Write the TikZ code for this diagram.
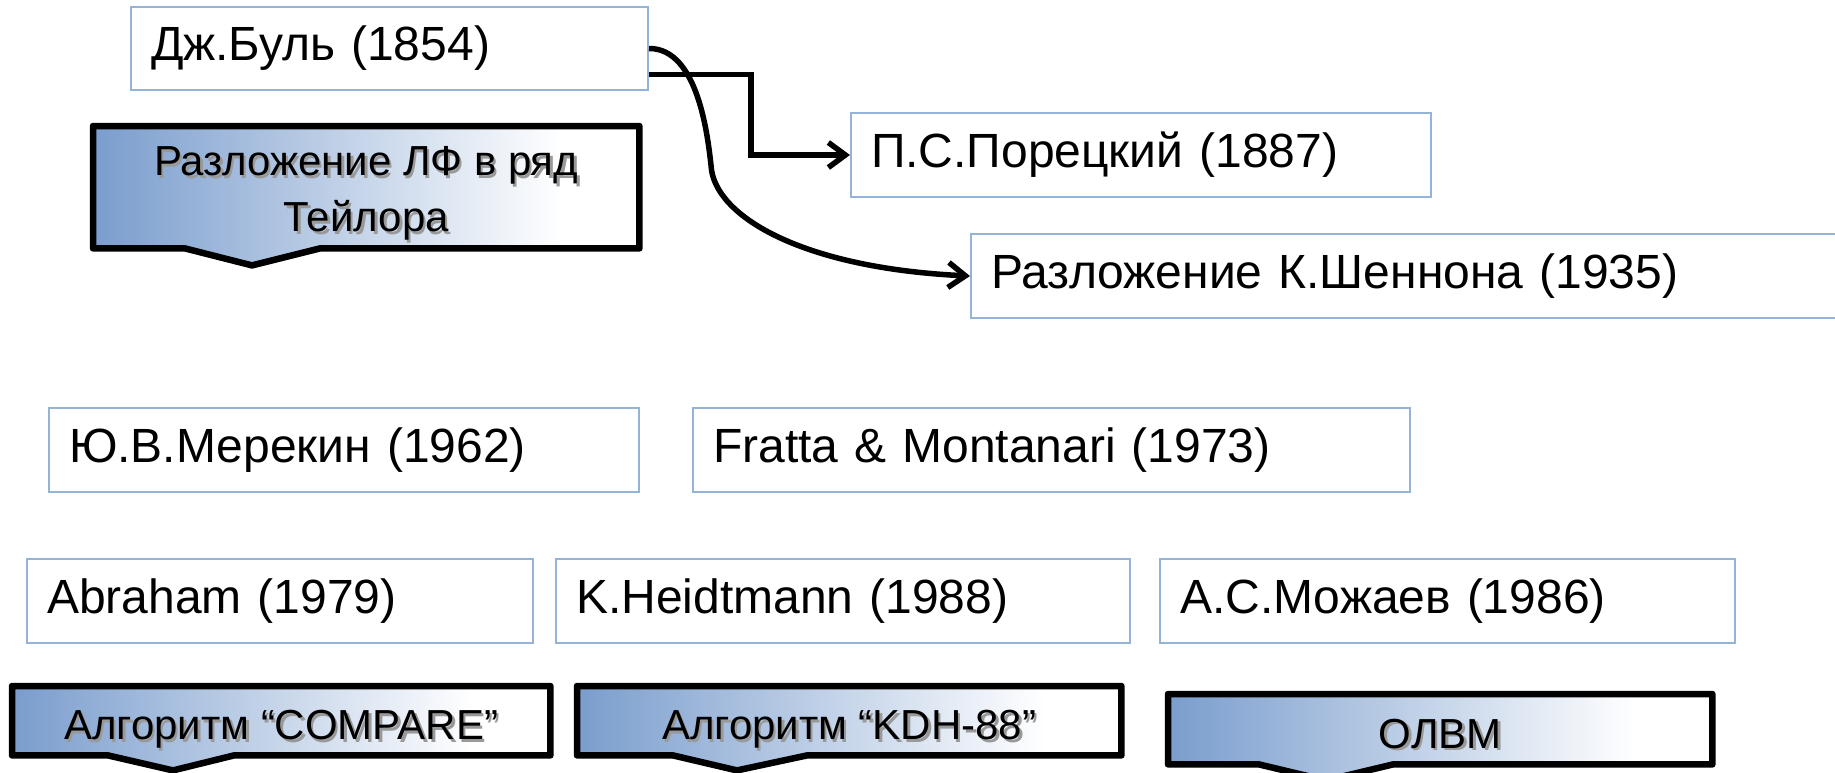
\documentclass[tikz,border=0pt]{standalone}
\usepackage{fontspec}
\setmainfont{Liberation Sans}
\usetikzlibrary{arrows.meta,calc}
\pgfdeclarelayer{bg}
\pgfsetlayers{bg,main}

\definecolor{boxline}{RGB}{149,179,215}
\definecolor{steel}{RGB}{122,157,205}
\pgfdeclarehorizontalshading{calloutshade}{100bp}{%
  color(0bp)=(steel); color(25bp)=(steel); color(68bp)=(white); color(100bp)=(white)}

% text with a soft offset shadow, as in the callout labels
\newcommand\shadowed[1]{{\leavevmode\rlap{\raisebox{-2.5pt}{\hspace{2.5pt}\textcolor{black!40}{#1}}}#1}}

% outline of a callout under its label node: body plus a downward notch
% #1 node, #2 notch left, #3 tip, #4 notch right (offsets from the left edge), #5 depth
\newcommand\calloutshape[5]{%
  \begin{pgfonlayer}{bg}
    \path[calloutpath] (#1.north west) -- (#1.north east) -- (#1.south east)
      -- ($(#1.south west)+(#4,0)$) -- ($(#1.south west)+(#3,#5)$)
      -- ($(#1.south west)+(#2,0)$) -- (#1.south west) -- cycle;
  \end{pgfonlayer}}

\tikzset{
  person/.style={draw=boxline, line width=2pt, fill=white, anchor=north west,
    inner xsep=20pt, inner ysep=0pt, minimum height=84pt, align=left,
    text width=#1, font=\fontsize{48pt}{56pt}\selectfont},
  callout/.style={anchor=north west, inner sep=0pt, align=center,
    font=\fontsize{42pt}{50pt}\selectfont},
  oneline/.style={text height=38pt, text depth=0pt},
  calloutpath/.style={draw=black, line width=6.5pt, line join=round, shading=calloutshade},
  conn/.style={draw=black, line width=5.5pt, -{Straight Barb[length=17pt,width=25pt]}},
}

\begin{document}
\begin{tikzpicture}[x=1pt, y=-1pt]
  \useasboundingbox (0,0) rectangle (1835,772);
  \begin{pgfonlayer}{bg}
    \fill[white] (0,0) rectangle (1835,772);
  \end{pgfonlayer}
  \clip (0,0) rectangle (1835,772);

  % authors and years
  \node[person=477pt, minimum height=83pt] (boole) at (130,6) {Дж.Буль (1854)};
  \node[person=540pt] (poretsky) at (850,112) {П.С.Порецкий (1887)};
  \node[person=840pt] (shannon)  at (970,233) {Разложение К.Шеннона (1935)};
  \node[person=550pt] (merekin)  at (48,407)  {Ю.В.Мерекин (1962)};
  \node[person=677pt] (fratta)   at (692,407) {Fratta \& Montanari (1973)};
  \node[person=466pt] (abraham)  at (26,558)  {Abraham (1979)};
  \node[person=534pt] (heidt)    at (555,558) {K.Heidtmann (1988)};
  \node[person=535pt] (mozhaev)  at (1159,558) {А.С.Можаев (1986)};

  % method callouts
  \node[callout, minimum width=546pt, minimum height=122pt] (taylor) at (93,126)
    {\rule{0pt}{44pt}\shadowed{Разложение ЛФ в ряд}\\[6pt]\shadowed{Тейлора}};
  \calloutshape{taylor}{92}{159}{227}{17}

  \node[callout, oneline, minimum width=538pt, minimum height=69pt] (compare) at (12,686)
    {\shadowed{Алгоритм “COMPARE”}};
  \calloutshape{compare}{96}{161}{222}{15}

  \node[callout, oneline, minimum width=544pt, minimum height=69pt] (kdh) at (577,686)
    {\shadowed{Алгоритм “KDH-88”}};
  \calloutshape{kdh}{96}{160}{230}{15}

  \node[callout, oneline, minimum width=544pt, minimum height=70pt] (olvm) at (1168,694)
    {\shadowed{ОЛВМ}};
  \calloutshape{olvm}{91}{158}{225}{16}

  % connectors from Boole
  \coordinate (bend) at (711,165);
  \draw[conn] ([yshift=-26pt]boole.east) -- ++(102,0) |- (poretsky.west);
  \draw[conn] (boole.east) .. controls (699,48) and (708,140) .. (bend)
    .. controls (713,215) and (800,268) .. (shannon.west);
\end{tikzpicture}
\end{document}
